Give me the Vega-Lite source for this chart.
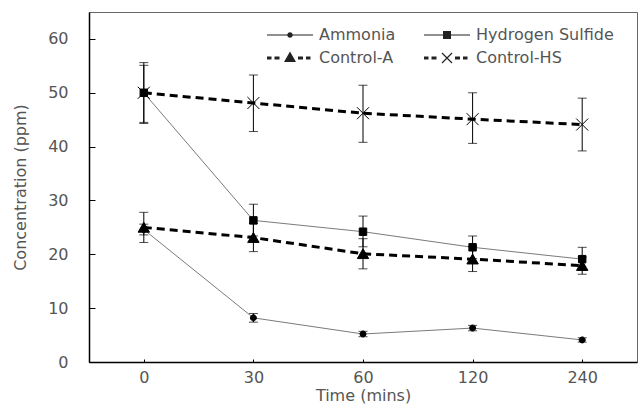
{
  "$schema": "https://vega.github.io/schema/vega-lite/v6.json",
  "width": 548,
  "height": 350,
  "autosize": {"type": "none"},
  "padding": {"left": 89, "top": 12, "right": 4, "bottom": 46},
  "background": "white",
  "data": {
    "values": [
      {"time": "0", "series": "Ammonia", "value": 24.6, "lo": 23.6, "hi": 25.6},
      {"time": "30", "series": "Ammonia", "value": 8.2, "lo": 7.4, "hi": 9.0},
      {"time": "60", "series": "Ammonia", "value": 5.2, "lo": 4.7, "hi": 5.7},
      {"time": "120", "series": "Ammonia", "value": 6.3, "lo": 5.8, "hi": 6.8},
      {"time": "240", "series": "Ammonia", "value": 4.1, "lo": 3.7, "hi": 4.5},
      {"time": "0", "series": "Hydrogen Sulfide", "value": 50, "lo": 44.5, "hi": 55.6},
      {"time": "30", "series": "Hydrogen Sulfide", "value": 26.3, "lo": 23.4, "hi": 29.3},
      {"time": "60", "series": "Hydrogen Sulfide", "value": 24.2, "lo": 21.4, "hi": 27.1},
      {"time": "120", "series": "Hydrogen Sulfide", "value": 21.3, "lo": 19.2, "hi": 23.4},
      {"time": "240", "series": "Hydrogen Sulfide", "value": 19.1, "lo": 17.0, "hi": 21.3},
      {"time": "0", "series": "Control-A", "value": 25, "lo": 22.2, "hi": 27.8},
      {"time": "30", "series": "Control-A", "value": 23.1, "lo": 20.5, "hi": 25.7},
      {"time": "60", "series": "Control-A", "value": 20.1, "lo": 17.3, "hi": 22.9},
      {"time": "120", "series": "Control-A", "value": 19.1, "lo": 16.8, "hi": 21.4},
      {"time": "240", "series": "Control-A", "value": 17.9, "lo": 16.3, "hi": 19.5},
      {"time": "0", "series": "Control-HS", "value": 50, "lo": 44.3, "hi": 55.1},
      {"time": "30", "series": "Control-HS", "value": 48.1, "lo": 42.8, "hi": 53.3},
      {"time": "60", "series": "Control-HS", "value": 46.2, "lo": 40.8, "hi": 51.4},
      {"time": "120", "series": "Control-HS", "value": 45.1, "lo": 40.6, "hi": 50.0},
      {"time": "240", "series": "Control-HS", "value": 44.1, "lo": 39.2, "hi": 49.0}
    ]
  },
  "encoding": {
    "x": {
      "field": "time",
      "type": "ordinal",
      "sort": ["0", "30", "60", "120", "240"],
      "scale": {"type": "point", "padding": 0.5},
      "axis": {"title": "Time (mins)", "labelAngle": 0, "tickSize": -3, "labelPadding": 10, "titlePadding": 2}
    }
  },
  "layer": [
    {
      "transform": [{"filter": {"field": "series", "oneOf": ["Ammonia", "Hydrogen Sulfide"]}}],
      "mark": {"type": "line", "color": "#7a7a7a", "strokeWidth": 1},
      "encoding": {
        "y": {"field": "value", "type": "quantitative", "scale": {"domain": [0, 65], "nice": false},
          "axis": {"title": "Concentration (ppm)", "values": [0, 10, 20, 30, 40, 50, 60], "tickSize": -6, "labelPadding": 27, "titlePadding": 19}},
        "detail": {"field": "series", "type": "nominal"}
      }
    },
    {
      "transform": [{"filter": {"field": "series", "oneOf": ["Control-A", "Control-HS"]}}],
      "mark": {"type": "line", "color": "#000", "strokeWidth": 3, "strokeDash": [8, 5], "strokeCap": "butt"},
      "encoding": {
        "y": {"field": "value", "type": "quantitative"},
        "detail": {"field": "series", "type": "nominal"}
      }
    },
    {
      "mark": {"type": "rule", "color": "#000", "strokeWidth": 1},
      "encoding": {
        "y": {"field": "lo", "type": "quantitative"},
        "y2": {"field": "hi"}
      }
    },
    {
      "mark": {"type": "tick", "orient": "horizontal", "size": 9, "thickness": 1, "color": "#000"},
      "encoding": {"y": {"field": "lo", "type": "quantitative"}}
    },
    {
      "mark": {"type": "tick", "orient": "horizontal", "size": 9, "thickness": 1, "color": "#000"},
      "encoding": {"y": {"field": "hi", "type": "quantitative"}}
    },
    {
      "mark": {"type": "point", "filled": true, "color": "#000", "stroke": "#000", "strokeWidth": 1, "opacity": 1, "size": 144},
      "encoding": {
        "y": {"field": "value", "type": "quantitative"},
        "shape": {
          "field": "series", "type": "nominal",
          "scale": {"domain": ["Ammonia", "Control-A", "Hydrogen Sulfide", "Control-HS"], "range": ["M-0.5,0A0.5,0.5,0,1,1,0.5,0A0.5,0.5,0,1,1,-0.5,0Z", "M0,-0.85L0.95,0.8H-0.95Z", "M-0.62,-0.62H0.62V0.62H-0.62Z", "M-1,-1L1,1M-1,1L1,-1"]},
          "legend": null
        }
      }
    },
    {
      "mark": {"type": "point", "filled": true, "color": "#222", "opacity": 0, "size": 100},
      "encoding": {
        "y": {"field": "value", "type": "quantitative"},
        "shape": {
          "field": "series", "type": "nominal",
          "scale": {"domain": ["Ammonia", "Control-A", "Hydrogen Sulfide", "Control-HS"], "range": [
            "M-4.6,-0.1L-0.5,-0.1L-0.5,0.1L-4.6,0.1Z M0.5,-0.1L4.6,-0.1L4.6,0.1L0.5,0.1Z M-0.55,0A0.55,0.55,0,1,1,0.55,0A0.55,0.55,0,1,1,-0.55,0Z",
            "M-4.6,-0.3L-3.7,-0.3L-3.7,0.3L-4.6,0.3Z M-3.1,-0.3L-2.1,-0.3L-2.1,0.3L-3.1,0.3Z M1.6,-0.3L2.6,-0.3L2.6,0.3L1.6,0.3Z M3.2,-0.3L4.1,-0.3L4.1,0.3L3.2,0.3Z M0,-1.3L1.2,0.8L-1.2,0.8Z",
            "M-4.6,-0.1L-0.8,-0.1L-0.8,0.1L-4.6,0.1Z M0.8,-0.1L4.6,-0.1L4.6,0.1L0.8,0.1Z M-0.8,-0.8L0.8,-0.8L0.8,0.8L-0.8,0.8Z",
            "M-4.6,-0.3L-3.7,-0.3L-3.7,0.3L-4.6,0.3Z M-3.1,-0.3L-2.1,-0.3L-2.1,0.3L-3.1,0.3Z M1.6,-0.3L2.6,-0.3L2.6,0.3L1.6,0.3Z M3.2,-0.3L4.1,-0.3L4.1,0.3L3.2,0.3Z M-0.915,-1.085L1.085,0.915L0.915,1.085L-1.085,-0.915Z M-1.085,0.915L0.915,-1.085L1.085,-0.915L-0.915,1.085Z"
          ]},
          "legend": {
            "title": null,
            "orient": "none",
            "legendX": 178,
            "legendY": 15,
            "columns": 2,
            "padding": 0,
            "rowPadding": 7,
            "columnPadding": 28,
            "symbolSize": 100,
            "symbolOffset": 15,
            "labelOffset": 21,
            "symbolOpacity": 1,
            "symbolFillColor": "#222",
            "symbolStrokeWidth": 0,
            "labelFont": "DejaVu Sans",
            "labelFontSize": 16,
            "labelColor": "#555",
            "encode": {
              "symbols": {
                "update": {
                  "opacity": {"value": 1},
                  "fill": {"value": "#222"},
                  "fillOpacity": {"value": 1},
                  "strokeWidth": {"value": 0}
                }
              }
            }
          }
        }
      }
    }
  ],
  "resolve": {"scale": {"shape": "independent"}, "legend": {"shape": "independent"}},
  "config": {
    "view": {"stroke": "#666", "strokeWidth": 1},
    "axis": {
      "labelFont": "DejaVu Sans", "labelFontSize": 16, "labelColor": "#555",
      "titleFont": "DejaVu Sans", "titleFontSize": 16, "titleColor": "#555", "titleFontWeight": "normal",
      "grid": false, "domainColor": "#000", "domainWidth": 1.5, "tickColor": "#000", "tickWidth": 1
    }
  }
}
